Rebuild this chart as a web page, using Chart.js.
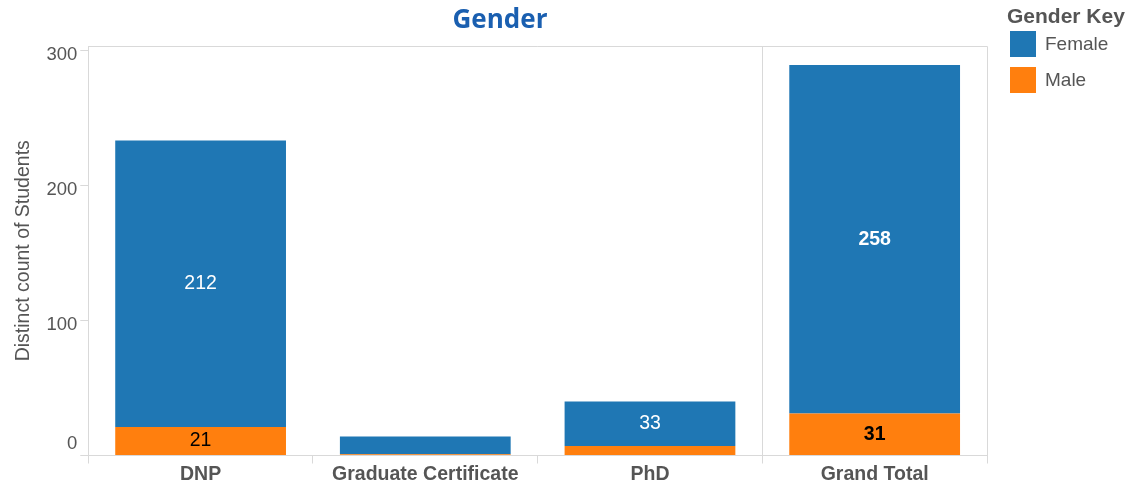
<!DOCTYPE html>
<html>
<head>
<meta charset="utf-8">
<script src="https://cdn.jsdelivr.net/npm/chart.js@4.4.1/dist/chart.umd.min.js"></script>
<style>
  body { margin: 0; background: #fff; overflow: hidden; }
  #wrap { position: relative; width: 1134px; height: 485px; }
  #title { position: absolute; left: 400px; width: 200px; top: 0px; text-align: center;
    font: bold 26px "Open Sans", sans-serif; color: #1a5fb0; }
  .lg { position: absolute; font-family: "Liberation Sans", Arial, sans-serif; color: #555; white-space: nowrap; }
  .head { left: 1007px; top: 4px; font-weight: bold; font-size: 21px; }
  .sw { position: absolute; left: 1010px; width: 26px; height: 26px; }
  .item { left: 1045px; font-size: 19px; }
</style>
</head>
<body>
<div id="wrap">
  <canvas id="chart" width="1134" height="485"></canvas>
  <div id="title">Gender</div>
  <div class="lg head">Gender Key</div>
  <div class="sw" style="top:31px;background:#1f77b4"></div>
  <div class="lg item" style="top:33px">Female</div>
  <div class="sw" style="top:67px;background:#ff7f0e"></div>
  <div class="lg item" style="top:69px">Male</div>
</div>
<script>
const categories = ['DNP', 'Graduate Certificate', 'PhD', 'Grand Total'];
const female = [212, 13, 33, 258];
const male = [21, 1, 7, 31];
const yTicks = [0, 100, 200, 300];
// which values get a label inside the bar (null = no label)
const femaleLabels = ['212', null, '33', '258'];
const maleLabels = ['21', null, null, '31'];
const boldLabels = [false, false, false, true];

const tickFont = '18.5px "Liberation Sans", Arial, sans-serif';

const inBarLabels = {
  id: 'inBarLabels',
  afterDatasetsDraw(chart) {
    const ctx = chart.ctx;
    const sets = [[0, femaleLabels, '#fff'], [1, maleLabels, '#000']];
    ctx.save();
    ctx.textAlign = 'center';
    ctx.textBaseline = 'middle';
    sets.forEach(function(s) {
      const meta = chart.getDatasetMeta(s[0]);
      meta.data.forEach(function(bar, i) {
        const txt = s[1][i];
        if (!txt) return;
        ctx.font = (boldLabels[i] ? 'bold ' : '') + '19.5px "Liberation Sans", Arial, sans-serif';
        ctx.fillStyle = s[2];
        ctx.fillText(txt, bar.x, (bar.y + bar.base) / 2);
      });
    });
    ctx.restore();
  }
};

// top/right frame, separator before Grand Total, and the "0" label nudged above the baseline
const frame = {
  id: 'frame',
  beforeDatasetsDraw(chart) {
    const a = chart.chartArea;
    const ctx = chart.ctx;
    const sep = chart.scales.x.getPixelForValue(2.5);
    ctx.save();
    ctx.strokeStyle = '#d9d9d9';
    ctx.lineWidth = 1;
    ctx.beginPath();
    ctx.moveTo(a.left, a.top + 0.5);
    ctx.lineTo(a.right + 0.5, a.top + 0.5);
    ctx.lineTo(a.right + 0.5, a.bottom);
    ctx.moveTo(Math.round(sep) + 0.5, a.top);
    ctx.lineTo(Math.round(sep) + 0.5, a.bottom);
    ctx.stroke();
    const y = chart.scales.y;
    ctx.font = tickFont;
    ctx.fillStyle = '#555';
    ctx.textAlign = 'right';
    ctx.textBaseline = 'middle';
    ctx.fillText(String(yTicks[0]), y.right - 11, y.getPixelForValue(yTicks[0]) - 12);
    ctx.restore();
  }
};

new Chart(document.getElementById('chart'), {
  type: 'bar',
  data: {
    labels: categories,
    datasets: [
      { label: 'Female', data: female, backgroundColor: '#1f77b4', order: 2 },
      { label: 'Male', data: male, backgroundColor: '#ff7f0e', order: 1 }
    ]
  },
  options: {
    responsive: false,
    animation: false,
    barPercentage: 0.76,
    categoryPercentage: 1,
    layout: { padding: { top: 46, right: 147, left: 8, bottom: 0 } },
    plugins: { legend: { display: false }, tooltip: { enabled: false } },
    scales: {
      x: {
        stacked: true,
        grid: { offset: true, drawOnChartArea: false, tickLength: 8, color: '#d9d9d9' },
        border: { color: '#d9d9d9' },
        ticks: { color: '#555', font: { family: '"Liberation Sans", Arial, sans-serif', size: 19.5, weight: 'bold', lineHeight: 1.0 }, padding: 1 }
      },
      y: {
        stacked: true,
        min: 0,
        max: 303,
        afterBuildTicks(axis) { axis.ticks = yTicks.map(v => ({ value: v })); },
        grid: { drawOnChartArea: false, tickLength: 8, color: '#d9d9d9' },
        border: { color: '#d9d9d9' },
        title: { display: true, text: 'Distinct count of Students', color: '#555',
          font: { family: '"Liberation Sans", Arial, sans-serif', size: 19.5 }, padding: { bottom: 8 } },
        ticks: {
          color: ctx => ctx.tick && ctx.tick.value === 0 ? 'rgba(0,0,0,0)' : '#555',
          font: { family: '"Liberation Sans", Arial, sans-serif', size: 18.5 },
          padding: 3,
          labelOffset: 5
        }
      }
    }
  },
  plugins: [frame, inBarLabels]
});
</script>
</body>
</html>
